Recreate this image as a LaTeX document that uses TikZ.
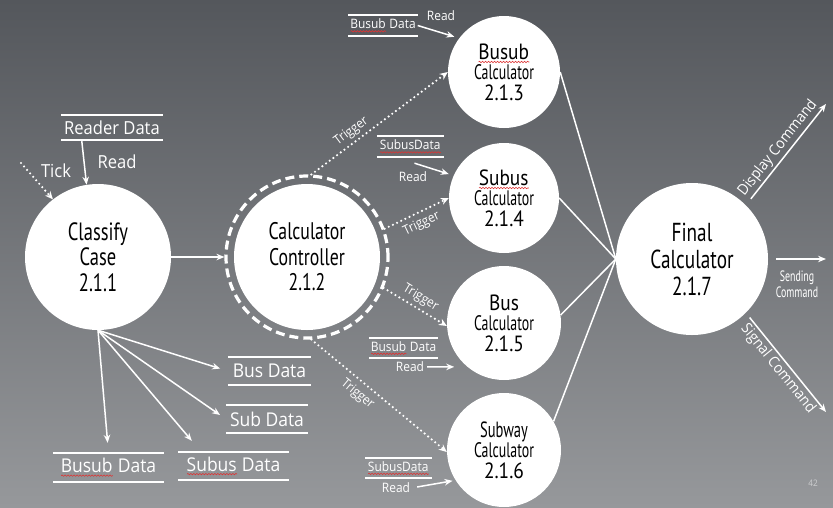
\documentclass[tikz,border=0pt]{standalone}
\usepackage{fontspec}
\usetikzlibrary{arrows.meta,calc,decorations.pathmorphing}
\setmainfont{Open Sans}
\newfontfamily\labelfont[FakeStretch=0.92]{Open Sans}
\newfontfamily\circfont[FakeStretch=0.74]{PT Sans}
\newfontfamily\midfont[FakeStretch=0.88]{PT Sans}
\newfontfamily\tightfont[FakeStretch=0.66]{PT Sans}
\definecolor{bgtop}{RGB}{84,87,92}
\definecolor{bgmid}{RGB}{100,103,107}
\definecolor{bgbot}{RGB}{150,152,155}
\definecolor{spell}{RGB}{222,52,52}
\definecolor{pagenum}{RGB}{205,206,208}
% red wavy spell-check underline under a word
\newsavebox\wavebox
\newcommand\spellwave[1]{\sbox\wavebox{#1}\leavevmode\rlap{\usebox\wavebox}%
  \tikz[baseline=0pt]\draw[spell, line width=0.6pt, decorate,
    decoration={snake, amplitude=0.7pt, segment length=3pt}]
    (0pt,-2.8pt) -- (\wd\wavebox,-2.8pt);}
\begin{document}
\begin{tikzpicture}[x=1pt,y=-1pt,
  proc/.style={circle, fill=white, inner sep=0pt, align=center, text=black, font=\circfont},
  calc/.style={proc, font=\midfont\fontsize{22}{20.5}\selectfont},
  storeline/.style={draw=white, line width=1.5pt, -},
  store/.style={inner sep=0pt, text=white, font=\labelfont,
    append after command={
      (\tikzlastnode.north west) edge[storeline] (\tikzlastnode.north east)
      (\tikzlastnode.south west) edge[storeline] (\tikzlastnode.south east)}},
  flow/.style={draw=white, line width=1.5pt, -{Stealth[length=8pt,width=6.5pt]}},
  conn/.style={draw=white, line width=1.5pt},
  trig/.style={draw=white, line width=2.4pt, dash pattern=on 0pt off 4.6pt, line cap=round,
    -{Stealth[length=8pt,width=7pt]}},
  lbl/.style={text=white, font=\labelfont, inner sep=1pt},
  small/.style={font=\labelfont\fontsize{13}{15}\selectfont},
  big/.style={font=\labelfont\fontsize{18}{20}\selectfont},
]
% background
\shade[top color=bgtop, middle color=bgmid, bottom color=bgbot] (0,0) rectangle (833,507);
\useasboundingbox (0,0) rectangle (833,507);

% processes
\node[proc, minimum size=146pt, font=\circfont\fontsize{25}{25.5}\selectfont] (cls) at (98,257)
  {Classify\\Case\\2.1.1};
\node[circle, draw=white, line width=3.2pt, dash pattern=on 9pt off 5pt,
  minimum size=162pt, inner sep=0pt] (ring) at (307,257) {};
\node[proc, minimum size=146pt, font=\circfont\fontsize{24}{25.5}\selectfont] (ctl) at (307,257)
  {Calculator\\Controller\\2.1.2};
\node[calc, minimum size=112pt] (bsb) at (504,72)
  {\spellwave{Busub}\\{\tightfont\fontsize{21}{20.5}\selectfont Calculator}\\2.1.3};
\node[calc, minimum size=110pt] (sbs) at (504,198)
  {\spellwave{Subus}\\{\tightfont\fontsize{21}{20.5}\selectfont Calculator}\\2.1.4};
\node[calc, minimum size=114pt] (bus) at (504,323)
  {Bus\\{\tightfont\fontsize{21}{20.5}\selectfont Calculator}\\2.1.5};
\node[calc, minimum size=114pt] (sbw) at (504,450)
  {{\tightfont Subway}\\{\tightfont\fontsize{21}{20.5}\selectfont Calculator}\\2.1.6};
\node[proc, minimum size=152pt, font=\circfont\fontsize{26}{27}\selectfont] (fin) at (692,259)
  {Final\\Calculator\\2.1.7};

% data stores
\node[store, minimum width=102pt, minimum height=25pt, big] (reader) at (112,127.5) {Reader Data};
\node[store, minimum width=83pt, minimum height=28pt, font=\labelfont\fontsize{19}{21}\selectfont]
  (busD) at (269.5,371) {Bus Data};
\node[store, minimum width=82pt, minimum height=28pt, font=\labelfont\fontsize{19}{21}\selectfont]
  (subD) at (267,419) {Sub Data};
\node[store, minimum width=111pt, minimum height=29pt, font=\labelfont\fontsize{19}{21}\selectfont]
  (busubD) at (108.5,467.5) {\spellwave{Busub} Data};
\node[store, minimum width=111pt, minimum height=28pt, font=\labelfont\fontsize{19}{21}\selectfont]
  (subusD) at (233.5,466) {\spellwave{Subus} Data};
\node[store, minimum width=69pt, minimum height=21pt, small] (busubT) at (383,25.5) {\spellwave{Busub} Data};
\node[store, minimum width=67pt, minimum height=21pt, small] (subusM) at (410.5,146.5) {\spellwave{SubusData}};
\node[store, minimum width=69pt, minimum height=20pt, small] (busubB) at (403.5,348) {\spellwave{Busub} Data};
\node[store, minimum width=66pt, minimum height=20pt, small] (subusW) at (398.5,468) {\spellwave{SubusData}};

% inputs to Classify Case
\coordinate (tickStart) at (21,163);
\draw[trig] (tickStart) -- (cls.128);
\node[lbl, big] (tick) at (56,171) {Tick};
\draw[flow] ($(reader.south west)+(21,1)$) -- (cls.99);
\node[lbl, big] (rdReader) at (117,162) {Read};

% Classify Case outputs
\draw[flow] (cls.east) -- (ring.west);
\draw[flow, shorten >=8pt] (cls.south) -- (busD.west);
\draw[flow, shorten >=7pt] (cls.south) -- (subD.west);
\draw[flow] (cls.south) -- ($(subusD.north west)+(14,-11)$);
\draw[flow, shorten >=10pt] (cls.south) -- (busubD.north);

% triggers from the controller
\draw[trig] (ring.87) -- node[lbl, sloped, above=2pt, pos=0.34, small] {Trigger} (bsb.180);
\draw[trig] (ring.20) -- node[lbl, sloped, below=3pt, pos=0.5, small] {Trigger} (sbs.180);
\draw[trig] (ring.338) -- node[lbl, sloped, above=2pt, pos=0.5, small] {Trigger} (bus.183);
\draw[trig] (ring.273) -- node[lbl, sloped, below=4pt, pos=0.4, small] {Trigger} (sbw.182);

% reads into the calculators
\draw[flow, shorten >=5pt] (busubT.east) -- (bsb.143);
\node[lbl, small] (rdTop) at (441,16) {Read};
\draw[flow, shorten >=5pt] ($(subusM.south)+(4,6)$) -- (sbs.156);
\node[lbl, small] (rdMid) at (413,177) {Read};
\node[lbl, small] (rdBus) at (410,367) {Read};
\draw[flow, shorten <=2pt, shorten >=13pt] (rdBus.east) -- (bus.230);
\node[lbl, small] (rdSbw) at (396,488) {Read};
\draw[flow, shorten <=6pt, shorten >=3pt] (rdSbw.east) -- (sbw.212);

% calculators into the final calculator
\draw[conn] (bsb.east) -- (fin.west);
\draw[conn] (sbs.east) -- (fin.west);
\draw[conn] (bus.8) -- (fin.west);
\draw[conn] (sbw.30) -- (fin.west);

% final outputs
\coordinate (dispEnd) at (826,104);
\coordinate (sendEnd) at (826,259);
\coordinate (sigEnd) at (826,412);
\draw[flow, shorten <=8pt] (fin.45) -- node[lbl, sloped, above=1pt, font=\labelfont\fontsize{15}{17}\selectfont] {Display Command} (dispEnd);
\draw[flow, shorten <=8pt] (fin.east) -- (sendEnd);
\node[lbl, align=center, font=\tightfont\fontsize{15}{16}\selectfont] (sendLbl) at (797,284) {Sending\\Command};
\draw[flow, shorten <=6pt] (fin.-45) -- node[lbl, sloped, below=1pt, font=\labelfont\fontsize{15}{17}\selectfont] {Signal Command} (sigEnd);

% page number
\node[text=pagenum, font=\labelfont\fontsize{9}{10}\selectfont] (page) at (813,483) {42};
\end{tikzpicture}
\end{document}
